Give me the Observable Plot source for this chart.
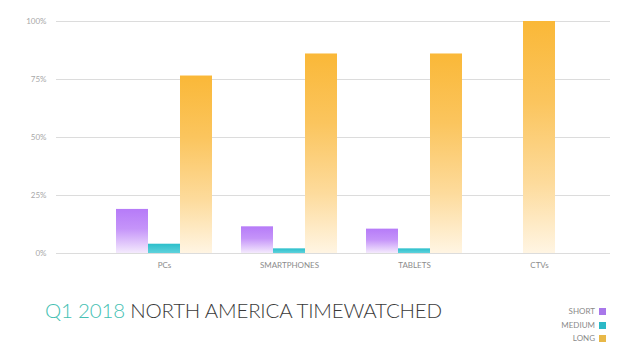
<!DOCTYPE html>
<html>
<head>
<meta charset="utf-8">
<script src="https://cdn.jsdelivr.net/npm/d3@7"></script>
<script src="https://cdn.jsdelivr.net/npm/@observablehq/plot@0.6"></script>
<style>
  html, body { margin: 0; padding: 0; background: #fff; }
  #wrap { position: relative; width: 622px; height: 354px; font-family: Lato, "Open Sans", sans-serif; }
  #title { position: absolute; left: 45px; top: 298px; font-size: 20.5px; font-weight: 300; color: #3a3a3a; letter-spacing: -0.2px; white-space: nowrap; }
  #title .yr { color: #45bfb3; }
  #legend { position: absolute; right: 16px; top: 305px; font-size: 8px; color: #8a8a8a; text-align: right; line-height: 13.7px; }
  #legend .sw { display: inline-block; width: 7px; height: 7px; margin-left: 4px; vertical-align: -1px; }
</style>
</head>
<body>
<div id="wrap">
  <div id="chart"></div>
  <div id="title"><span class="yr">Q1 2018</span> NORTH AMERICA TIMEWATCHED</div>
  <div id="legend"></div>
</div>
<script>
const categories = ["PCs", "SMARTPHONES", "TABLETS", "CTVs"];
const seriesNames = ["SHORT", "MEDIUM", "LONG"];
const shortValues = [19, 11.5, 10.5, 0];
const mediumValues = [4, 2, 2, 0];
const longValues = [76.5, 86, 86, 100];
const yTicks = [0, 25, 50, 75, 100];
const legendColors = ["#a877ea", "#2bb8c6", "#e8b848"];

const rows = categories.map((c, i) => ({
  category: c,
  short: shortValues[i],
  medium: mediumValues[i],
  long: longValues[i],
  solo: shortValues[i] === 0 && mediumValues[i] === 0
}));

const chart = Plot.plot({
  width: 622,
  height: 280,
  marginTop: 21,
  marginBottom: 27,
  marginLeft: 56,
  marginRight: 12,
  style: { fontFamily: "Lato, 'Open Sans', sans-serif", background: "transparent" },
  x: { domain: categories, range: [115, 587], paddingInner: 0.234, paddingOuter: 0, label: null },
  y: { domain: [0, 100], label: null },
  marks: [
    Plot.ruleY(yTicks, { stroke: "#dcdcdc", strokeWidth: 1 }),
    Plot.axisY({ ticks: yTicks, tickSize: 0, tickPadding: 10, tickFormat: d => d + "%", fill: "#a8a8a8", fontSize: 8, label: null }),
    Plot.axisX({ tickSize: 0, tickPadding: 9, fill: "#8c8c8c", fontSize: 8, label: null }),
    Plot.barY(rows.filter(d => !d.solo), { x: "category", y: "short", fill: "url(#gShort)", insetRight: 64 }),
    Plot.barY(rows.filter(d => !d.solo), { x: "category", y: "medium", fill: "url(#gMedium)", insetLeft: 32, insetRight: 32 }),
    Plot.barY(rows.filter(d => !d.solo), { x: "category", y: "long", fill: "url(#gLong)", insetLeft: 64 }),
    Plot.barY(rows.filter(d => d.solo), { x: "category", y: "long", fill: "url(#gLong)", insetLeft: 32, insetRight: 32 })
  ]
});

const defs = `<defs>
  <linearGradient id="gShort" x1="0" y1="0" x2="0" y2="1">
    <stop offset="0" stop-color="#b67bf8"/>
    <stop offset="0.45" stop-color="#c594f9"/>
    <stop offset="1" stop-color="#f4eafd"/>
  </linearGradient>
  <linearGradient id="gMedium" x1="0" y1="0" x2="0" y2="1">
    <stop offset="0" stop-color="#2bbfcb"/>
    <stop offset="1" stop-color="#5fd2dc"/>
  </linearGradient>
  <linearGradient id="gLong" x1="0" y1="0" x2="0" y2="1">
    <stop offset="0" stop-color="#fab838"/>
    <stop offset="0.35" stop-color="#fbc55e"/>
    <stop offset="0.7" stop-color="#fddb9c"/>
    <stop offset="1" stop-color="#fff5e3"/>
  </linearGradient>
</defs>`;
chart.insertAdjacentHTML("afterbegin", defs);
document.getElementById("chart").appendChild(chart);

const legend = document.getElementById("legend");
seriesNames.forEach((s, i) => {
  const row = document.createElement("div");
  row.innerHTML = `${s}<span class="sw" style="background:${legendColors[i]}"></span>`;
  legend.appendChild(row);
});
</script>
</body>
</html>
